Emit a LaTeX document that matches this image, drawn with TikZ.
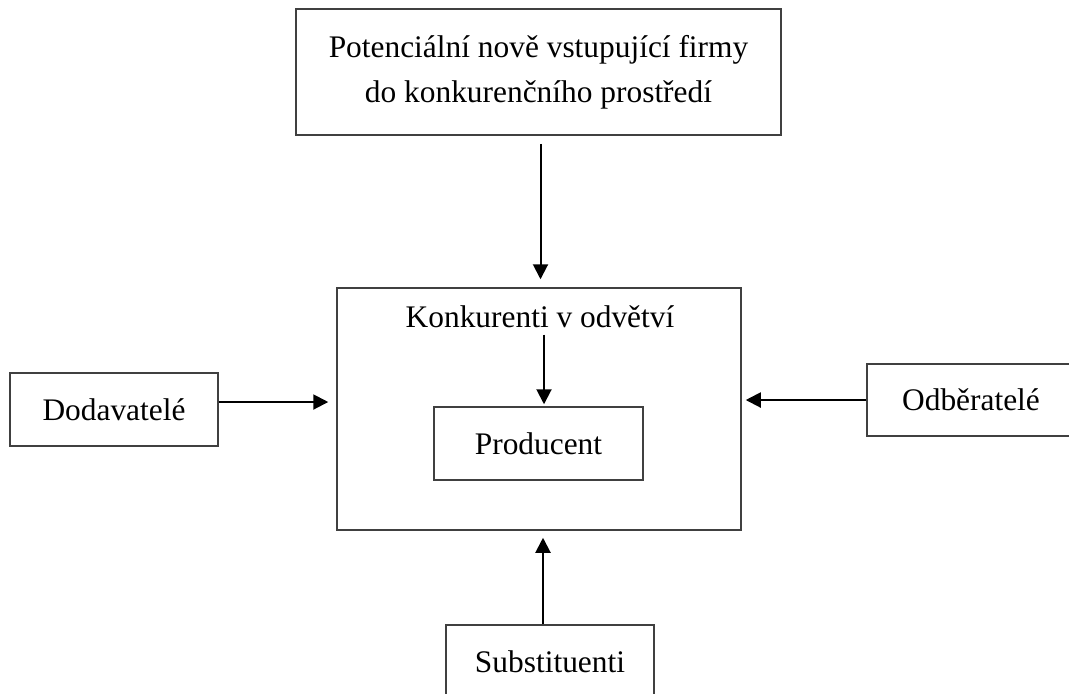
\documentclass[tikz,border=0pt]{standalone}
\usepackage{fontspec}
\setmainfont{Liberation Serif}
\usetikzlibrary{arrows.meta,positioning}
\definecolor{edge}{HTML}{404040}
\tikzset{
  box/.style={draw=edge, line width=0.75pt, inner sep=0pt, align=center},
  link/.style={-{Triangle[length=7.5pt,width=7.5pt]}, line width=1pt},
  lbl/.style={inner sep=0pt},
}
\begin{document}
\begin{tikzpicture}[x=0.5pt, y=-0.5pt, font=\fontsize{15.7}{22.5}\selectfont]
  \useasboundingbox (0,0) rectangle (1069,693);
  % the five forces
  \node[box, minimum width=242.5pt, minimum height=63pt] (entry) at (538.5,72)
    {Potenciální nově vstupující firmy\\ do konkurenčního prostředí};
  \node[box, minimum width=202pt, minimum height=121pt] (rivals) at (539,409) {};
  \node[lbl, anchor=base] (rivtxt) at (540,327) {Konkurenti v odvětví};
  \node[box, minimum width=104.5pt, minimum height=36.5pt] (prod) at (538.5,443.5) {Producent};
  \node[box, minimum width=104pt, minimum height=36.5pt] (supp) at (114,409.5) {Dodavatelé};
  \node[box, minimum width=104pt, minimum height=36pt] (buyer) at (971,400) {Odběratelé};
  \node[box, minimum width=104pt, minimum height=36.5pt] (subst) at (550,661.5) {Substituenti};
  % arrows into the industry
  \draw[link, shorten <=4pt, shorten >=4pt] ([xshift=1pt]entry.south) -- ([xshift=1pt]entry.south |- rivals.north);
  \draw[link, shorten <=3.5pt, shorten >=1pt] ([xshift=2pt]rivtxt.south) -- ([xshift=2pt]rivtxt.south |- prod.north);
  \draw[link, shorten >=4pt] ([yshift=3.75pt]supp.east) -- ([yshift=3.75pt]supp.east -| rivals.west);
  \draw[link, shorten >=2pt] (buyer.west) -- (buyer.west -| rivals.east);
  \draw[link, shorten >=3.5pt] ([xshift=-3.5pt]subst.north) -- ([xshift=-3.5pt]subst.north |- rivals.south);
\end{tikzpicture}
\end{document}
